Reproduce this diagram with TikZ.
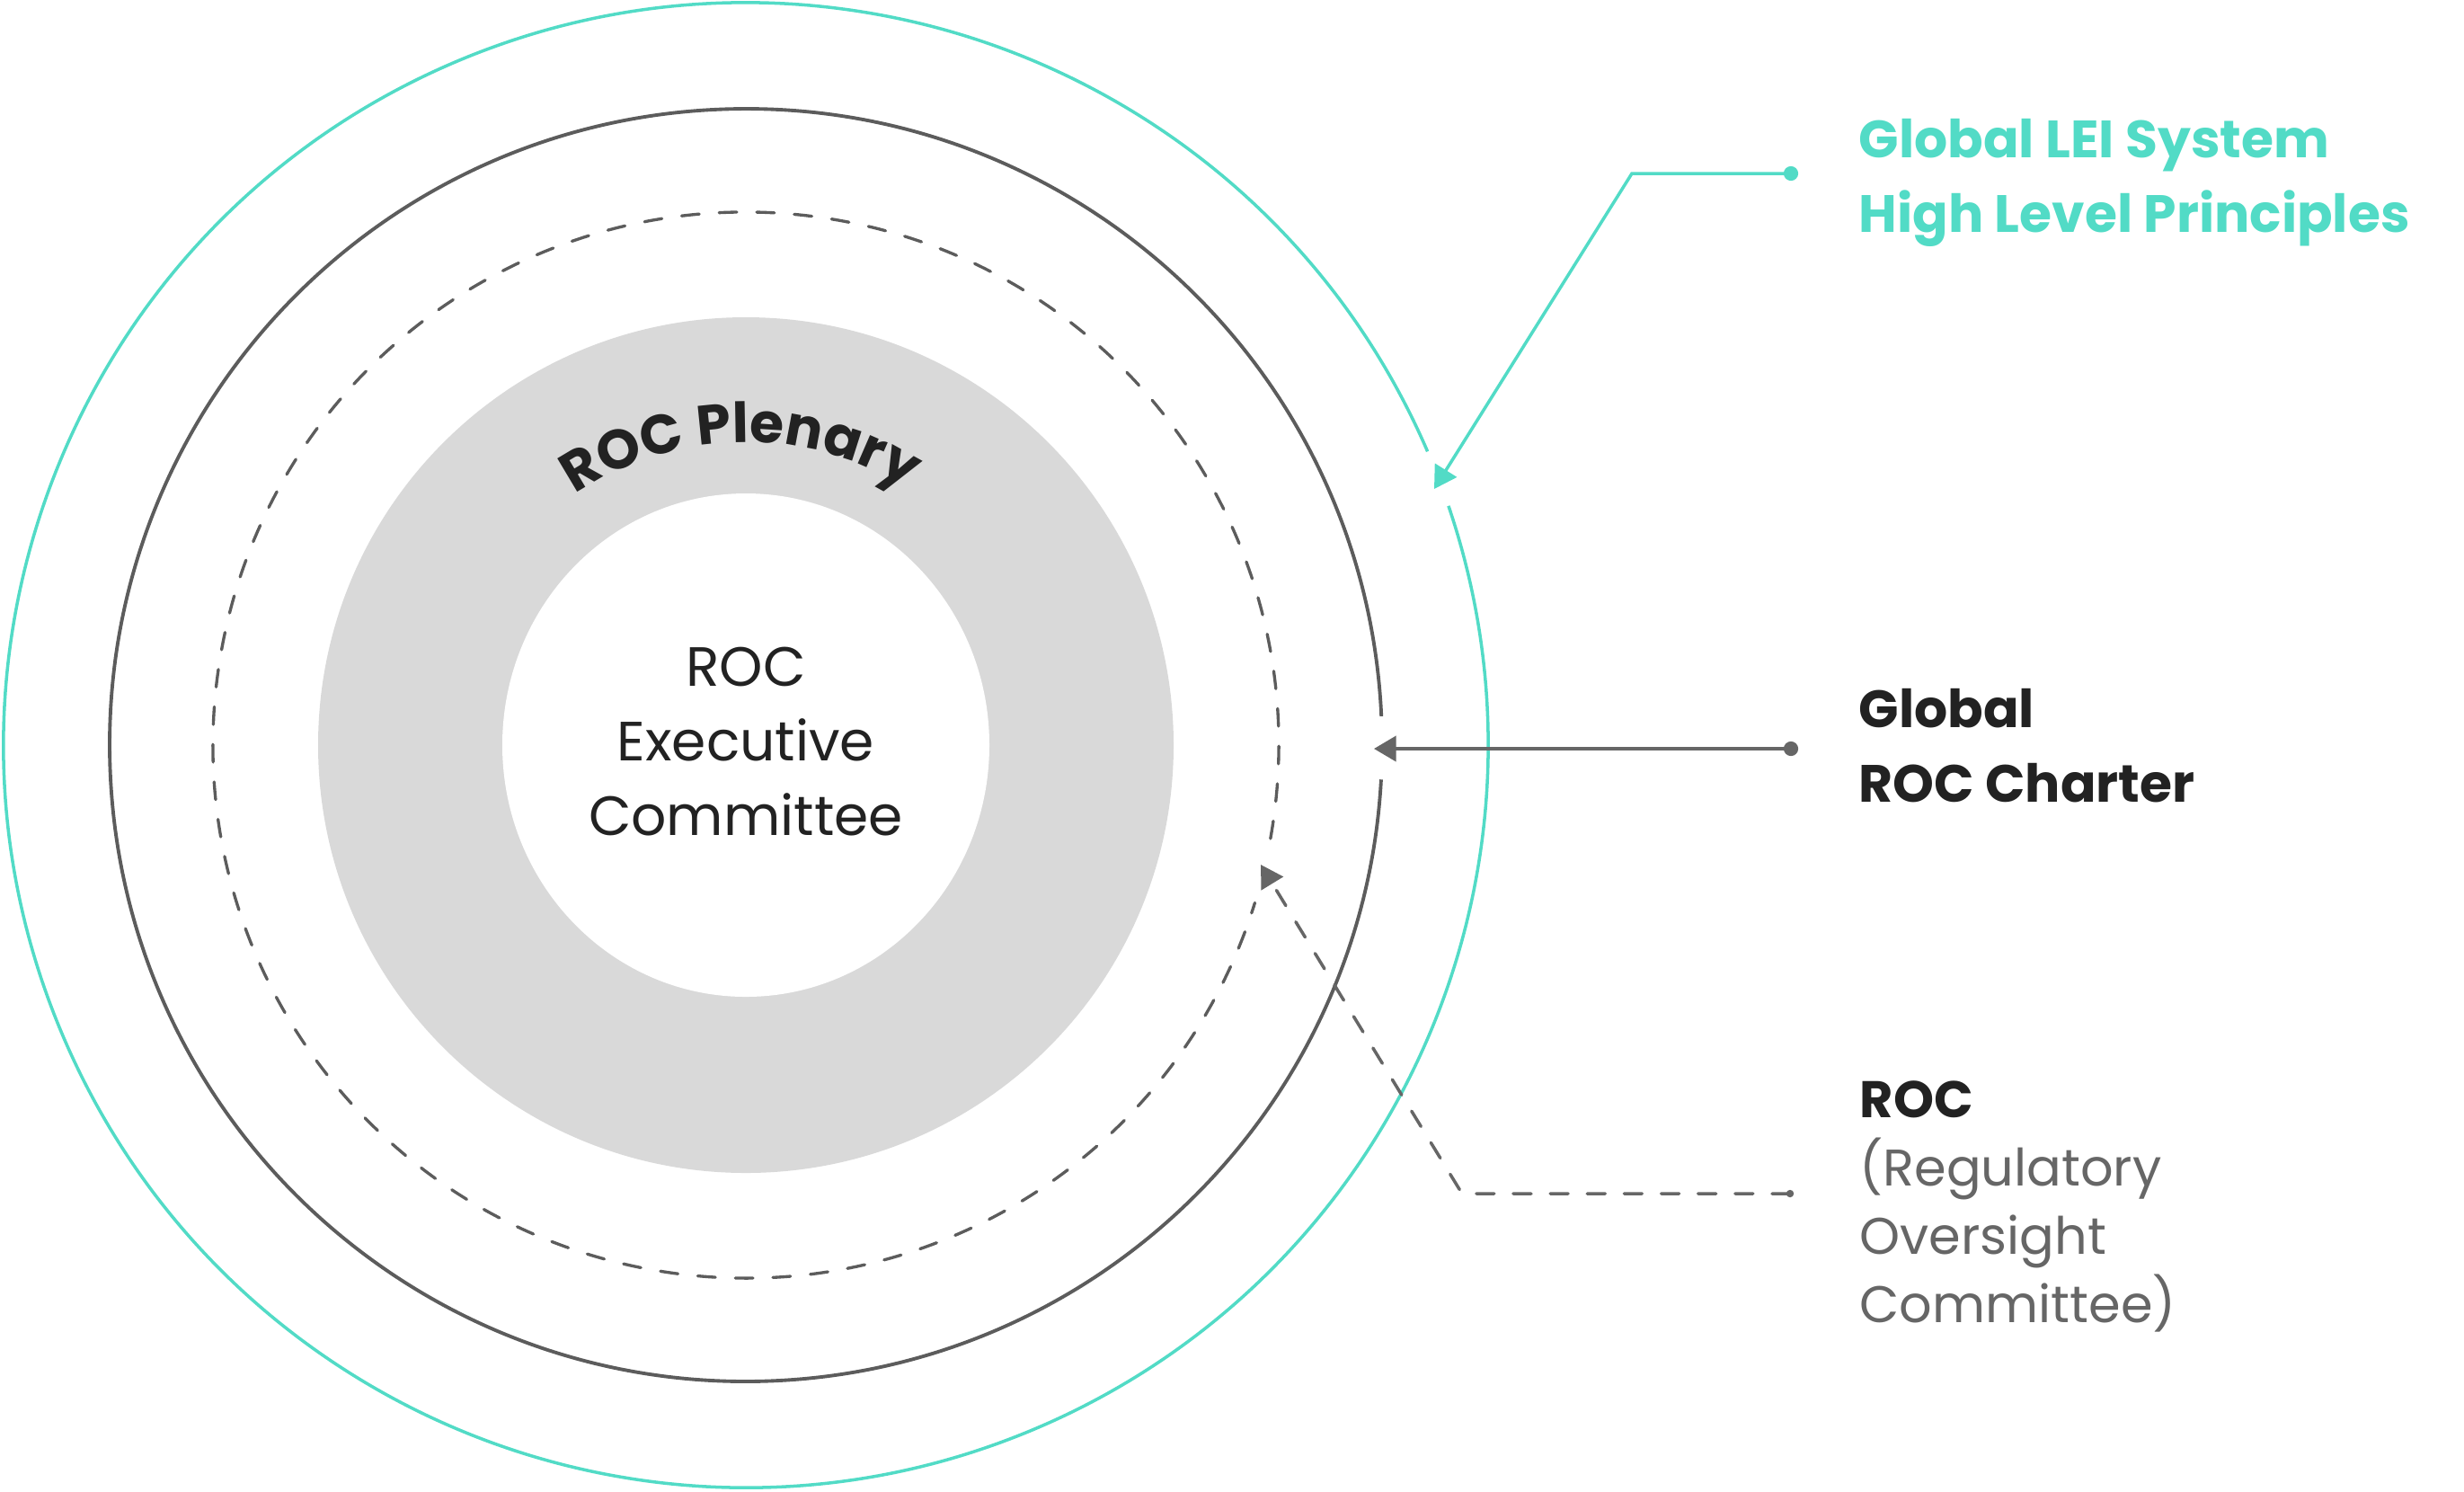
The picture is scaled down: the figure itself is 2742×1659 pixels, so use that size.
\documentclass[tikz,border=0pt]{standalone}
\usepackage{fontspec}
\setmainfont{Poppins}
\usepackage{tikz}
\usetikzlibrary{arrows.meta,positioning,calc,decorations.text}
\definecolor{leiteal}{RGB}{82,219,198}
\definecolor{ringgray}{RGB}{92,92,92}
\definecolor{linegray}{RGB}{102,102,102}
\definecolor{diskgray}{RGB}{217,217,217}
\definecolor{inkdark}{RGB}{34,34,34}
\newcommand{\lblsize}{\fontsize{16.6}{23.6}\selectfont}
\tikzset{
  ringteal/.style={draw=leiteal, line width=1pt},
  ringsolid/.style={draw=ringgray, line width=1.1pt},
  ringdash/.style={draw=ringgray, line width=0.95pt, line cap=round, dash pattern=on 5.6pt off 6.3pt},
  endpt/.style={circle, inner sep=0pt, minimum size=4.6pt, fill=#1},
  lbl/.style={inner sep=0pt, align=left, anchor=west, font=\lblsize},
  lblb/.style={lbl, font=\lblsize\bfseries},
  arr/.style={-{Triangle[length=7pt,width=8pt]}, line width=1pt},
  arrd/.style={arr, line cap=round, dash pattern=on 5.7pt off 6pt},
}

\begin{document}
\begin{tikzpicture}[x=0.01cm,y=0.01cm]
  \useasboundingbox (0,0) rectangle (2742,-1659);
  \coordinate (c) at (830,-829);

  % rings
  \fill[diskgray] (c) circle (476);
  \fill[white] (c) ellipse (271 and 280);
  \draw[ringteal] ($(c)+(23.3:826)$) arc[start angle=23.3, end angle=378.8, radius=826];
  \draw[ringsolid] ($(c)+(2.6:708)$) arc[start angle=2.6, end angle=356.9, radius=708];
  \draw[ringdash] ($(c)+(-10.1:593)$) arc[start angle=-10.1, end angle=342.8, radius=593];

  \node[inner sep=0pt, align=center, text=inkdark, font={\fontsize{17.5}{23.6}\selectfont}] (exec) at (830,-825) {ROC\\Executive\\Committee};
  \coordinate (plen-start) at ($(c)+(151:337)$);
  \path[decorate, decoration={text along path, text align=center,
      text={|\color{inkdark}\fontsize{17.5}{20}\selectfont\bfseries|ROC Plenary}}]
    (plen-start) arc[start angle=151, end angle=31, radius=337];

  % labels on the right
  \node[endpt=leiteal] (lei-dot) at (1993,-193) {};
  \node[lblb, text=leiteal, right=0.66cm of lei-dot, yshift=-0.1cm] (lei-text) {Global LEI System\\High Level Principles};
  \node[endpt=linegray] (charter-dot) at (1993,-833) {};
  \node[lblb, text=inkdark, right=0.66cm of charter-dot, yshift=0.03cm] (charter-text) {Global\\ROC Charter};
  \node[endpt=linegray, minimum size=2.4pt] (roc-dot) at (1992,-1328) {};
  \node[lbl, text=linegray, font={\fontsize{16.3}{21.6}\selectfont}, right=0.72cm of roc-dot, yshift=-0.14cm] (roc-text)
    {{\bfseries\color{inkdark}ROC}\\(Regulatory\\Oversight\\Committee)};

  % connectors
  \coordinate (lei-bend) at (1816,-193);
  \coordinate (lei-tip) at (1596,-544);
  \draw[arr, leiteal] (lei-dot.center) -- (lei-bend) -- (lei-tip);
  \coordinate (charter-tip) at (1529,-833);
  \draw[arr, linegray] (charter-dot.center) -- (charter-tip);
  \coordinate (roc-bend) at (1627,-1328);
  \coordinate (roc-tip) at (1403,-962);
  \draw[arrd, linegray] (roc-dot.center) -- (roc-bend) -- (roc-tip);
\end{tikzpicture}
\end{document}
